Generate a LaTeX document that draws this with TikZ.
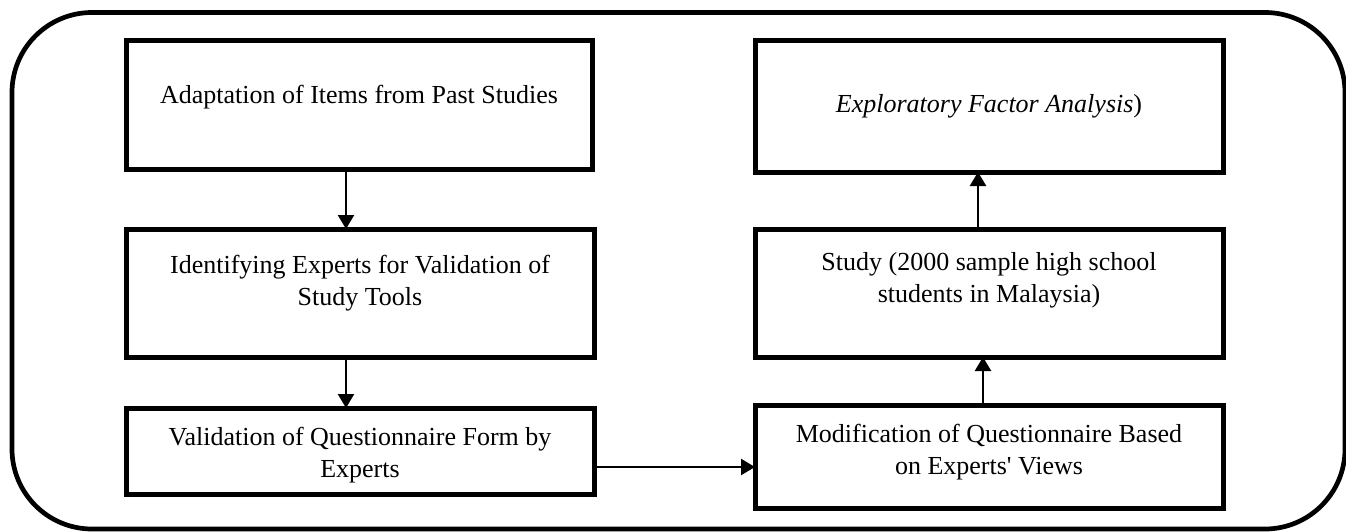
\documentclass[tikz,border=0pt]{standalone}
\usepackage{fontspec}
\setmainfont{Liberation Serif}[Ligatures=TeXOff]
\usetikzlibrary{arrows.meta}
\begin{document}
\begin{tikzpicture}[x=0.5pt,y=-0.5pt,
  box/.style={draw,line width=2.5pt,rectangle,inner sep=0pt,outer sep=0pt,minimum width=234pt},
  txt/.style={font=\fontsize{13}{16}\selectfont,align=center,anchor=base,inner sep=0pt},
  arr/.style={line width=1.2pt,-{Triangle[length=7pt,width=8pt]}},
  frame/.style={line width=2.35pt,rounded corners=40pt}]
\useasboundingbox (0,0) rectangle (1346,531);
\clip (0,0) rectangle (1346,531);
\draw[frame] (12,12.5) rectangle (1345,529);
% boxes
\node[box,minimum width=233pt,minimum height=64.5pt] (b1) at (359,104.5) {};
\node[box,minimum height=64pt] (b2) at (360,293) {};
\node[box,minimum height=43pt] (b3) at (360,451) {};
\node[box,minimum height=51.5pt] (b4) at (989,456.5) {};
\node[box,minimum height=64pt] (b5) at (989,293) {};
\node[box,minimum height=66pt] (b6) at (989,106) {};
% texts (anchor = baseline of last line)
\node[txt] (t1) at (359,103) {Adaptation of Items from Past Studies};
\node[txt] (t2) at (360,305) {Identifying Experts for Validation of\\Study Tools};
\node[txt] (t3) at (360,477) {Validation of Questionnaire Form by\\Experts};
\node[txt] (t4) at (989,474) {Modification of Questionnaire Based\\on Experts' Views};
\node[txt] (t5) at (989,302) {Study (2000 sample high school\\students in Malaysia)};
\node[txt] (t6) at (989,112) {\textit{Exploratory Factor Analysis})};
% arrow positions
\coordinate (xa) at (346,0);
\coordinate (xb) at (983,0);
\coordinate (xc) at (978,0);
\coordinate (ya) at (0,467);
\draw[arr] (b1.south -| xa) -- (b2.north -| xa);
\draw[arr] (b2.south -| xa) -- (b3.north -| xa);
\draw[arr] (b3.east |- ya) -- (b4.west |- ya);
\draw[arr] (b4.north -| xb) -- (b5.south -| xb);
\draw[arr] (b5.north -| xc) -- (b6.south -| xc);
\end{tikzpicture}
\end{document}
